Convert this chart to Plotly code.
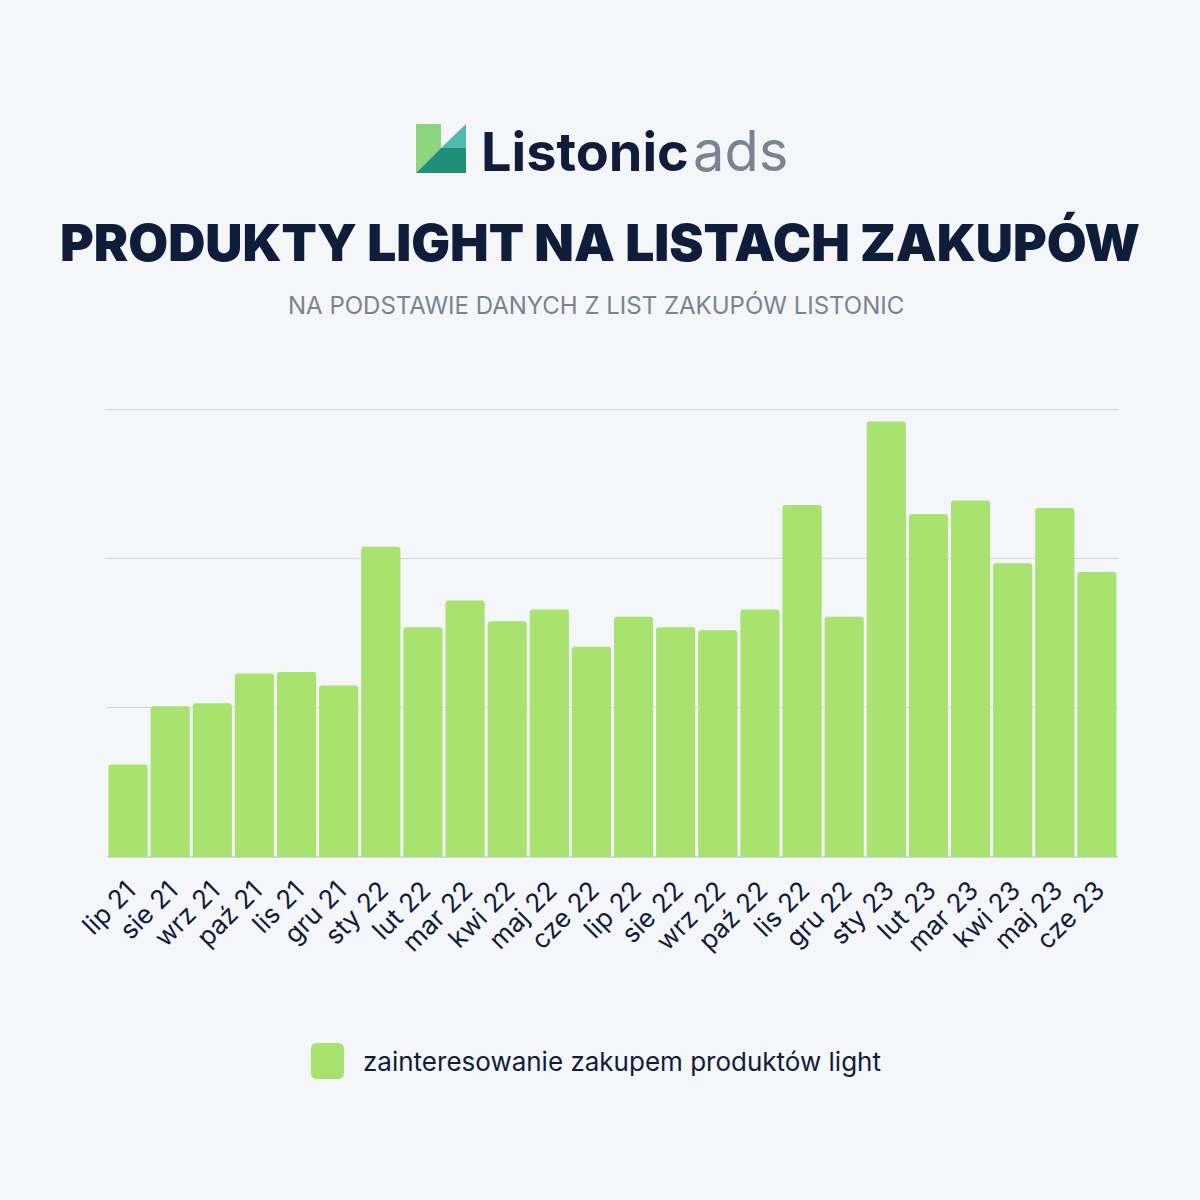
import plotly.graph_objects as go

months = ["lip 21", "sie 21", "wrz 21", "paź 21", "lis 21", "gru 21",
          "sty 22", "lut 22", "mar 22", "kwi 22", "maj 22", "cze 22",
          "lip 22", "sie 22", "wrz 22", "paź 22", "lis 22", "gru 22",
          "sty 23", "lut 23", "mar 23", "kwi 23", "maj 23", "cze 23"]
interest = [62, 101, 103, 123, 124, 115,
            208, 154, 172, 158, 166, 141,
            161, 154, 152, 166, 236, 161,
            292, 230, 239, 197, 234, 191]
series_name = "zainteresowanie zakupem produktów light"

BG = "#f4f6fa"
NAVY = "#0f1c3a"
GRAY = "#7a8294"
BAR = "#a8e26f"

# plot area in pixels
L, R, T, B = 107, 1118, 408, 857
W, H = 1200, 1200


def px(x):
    return (x - L) / (R - L)


def py(y):
    return (B - y) / (B - T)


fig = go.Figure()
fig.add_trace(go.Bar(
    x=months, y=interest, name=series_name,
    marker=dict(color=BAR, cornerradius=3, line=dict(width=0)),
    showlegend=False,
))

shapes = []


def poly(points, color):
    d = "M " + " L ".join(f"{px(x)},{py(y)}" for x, y in points) + " Z"
    shapes.append(dict(type="path", xref="paper", yref="paper", path=d,
                       fillcolor=color, line=dict(width=0), layer="above"))


def rounded_rect(x0, y0, x1, y1, r, color):
    pts = [
        ("M", (x0 + r, y0)), ("L", (x1 - r, y0)), ("Q", (x1, y0), (x1, y0 + r)),
        ("L", (x1, y1 - r)), ("Q", (x1, y1), (x1 - r, y1)),
        ("L", (x0 + r, y1)), ("Q", (x0, y1), (x0, y1 - r)),
        ("L", (x0, y0 + r)), ("Q", (x0, y0), (x0 + r, y0)),
    ]
    parts = []
    for item in pts:
        cmd = item[0]
        coords = " ".join(f"{px(a)},{py(b)}" for a, b in item[1:])
        parts.append(f"{cmd} {coords}")
    d = " ".join(parts) + " Z"
    shapes.append(dict(type="path", xref="paper", yref="paper", path=d,
                       fillcolor=color, line=dict(width=0), layer="above"))


# logo
poly([(416, 124), (441, 124), (441, 148), (416, 173)], "#8dd57e")
poly([(441, 148), (466, 124), (466, 148)], "#52b9ae")
poly([(416, 173), (441, 148), (466, 148), (466, 173)], "#1f8f78")

# legend swatch
rounded_rect(311, 1043, 344, 1079, 6, BAR)

annotations = [
    dict(text="<b>Listonic</b>", x=px(479), y=py(151), xref="paper", yref="paper",
         xanchor="left", yanchor="middle", showarrow=False,
         font=dict(family="Inter", size=54, color=NAVY, weight=800)),
    dict(text="ads", x=px(691), y=py(151), xref="paper", yref="paper",
         xanchor="left", yanchor="middle", showarrow=False,
         font=dict(family="Inter", size=56, color=GRAY, weight=400)),
    dict(text="PRODUKTY LIGHT NA LISTACH ZAKUPÓW", x=0.5 * (px(60) + px(1140)), y=py(242),
         xref="paper", yref="paper", xanchor="center", yanchor="middle", showarrow=False,
         font=dict(family="Inter", size=51.5, color=NAVY, weight=900)),
    dict(text="NA PODSTAWIE DANYCH Z LIST ZAKUPÓW LISTONIC", x=0.5 * (px(282) + px(909)), y=py(305),
         xref="paper", yref="paper", xanchor="center", yanchor="middle", showarrow=False,
         font=dict(family="Inter", size=24, color=GRAY, weight=400)),
    dict(text=series_name, x=px(361), y=py(1061), xref="paper", yref="paper",
         xanchor="left", yanchor="middle", showarrow=False,
         font=dict(family="Inter", size=26, color=NAVY, weight=400)),
]

fig.update_layout(
    width=W, height=H,
    margin=dict(l=L, r=W - R, t=T, b=H - B, pad=0),
    paper_bgcolor=BG, plot_bgcolor=BG,
    bargap=0.07,
    shapes=shapes, annotations=annotations,
    font=dict(family="Inter", color=NAVY),
)
fig.update_xaxes(tickangle=-45, tickfont=dict(size=26, color=NAVY, family="Inter"),
                 showgrid=False, showline=False, ticks="", ticklabelstandoff=12)
fig.update_yaxes(range=[0, 301], dtick=100, showticklabels=False, showgrid=True,
                 gridcolor="#d3d6dd", gridwidth=1, zeroline=True, zerolinecolor="#d3d6dd",
                 zerolinewidth=2)

fig.write_html("out.html")
